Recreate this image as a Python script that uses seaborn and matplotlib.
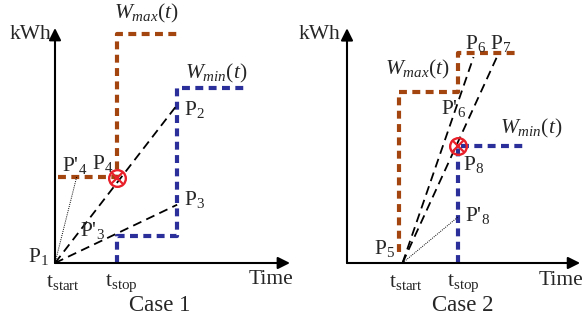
import matplotlib
matplotlib.use("Agg")
import matplotlib.pyplot as plt
import seaborn as sns
import pandas as pd

sns.set_theme(style="white")
plt.rcParams['font.family'] = ['Liberation Serif', 'DejaVu Serif']
plt.rcParams['mathtext.fontset'] = 'custom'
plt.rcParams['mathtext.rm'] = 'Liberation Serif'
plt.rcParams['mathtext.it'] = 'Liberation Serif:italic'

BROWN = '#A3450E'
BLUE = '#2B2F9A'
RED = '#E8202A'

# ---------------- Case 1 data ----------------
c1_wmax_t = [0.05, 1.0, 1.0, 1.97]
c1_wmax_e = [1.39, 1.39, 3.69, 3.69]
c1_wmin_t = [1.0, 1.0, 1.97, 1.97, 3.07]
c1_wmin_e = [0.0, 0.44, 0.44, 2.82, 2.82]
c1_P1 = (0.0, 0.0)
c1_P2 = (1.97, 2.55)
c1_P3 = (1.97, 0.94)
c1_P4p = (0.35, 1.39)
c1_P4 = (1.0, 1.37)

# ---------------- Case 2 data ----------------
c2_wmax_t = [0.94, 0.94, 2.0, 2.0, 3.12]
c2_wmax_e = [0.2, 3.08, 3.08, 3.78, 3.78]
c2_wmin_t = [2.0, 2.0, 3.24]
c2_wmin_e = [0.0, 2.11, 2.11]
c2_P5 = (1.0, 0.0)
c2_P6 = (2.28, 3.71)
c2_P7 = (2.70, 3.71)
c2_P8 = (2.0, 2.11)
c2_P8p = (2.0, 0.83)

fig = plt.figure(figsize=(5.83, 3.24), dpi=100)
axL = fig.add_axes([0, 0, 291 / 583, 1])
axR = fig.add_axes([291 / 583, 0, 292 / 583, 1])

axL.set_xlim(-55 / 62, (291 - 55) / 62)
axL.set_ylim(-(324 - 263) / 62, 263 / 62)
axR.set_xlim(-(347 - 291) / 55.5, (583 - 347) / 55.5)
axR.set_ylim(-(324 - 263) / 55.5, 263 / 55.5)

step_kw = dict(sort=False, estimator=None, legend=False)


def step(ax, t, e, color):
    df = pd.DataFrame({'t': t, 'e': e})
    sns.lineplot(data=df, x='t', y='e', ax=ax, color=color, linewidth=3.0,
                 linestyle=(0, (1.9, 1.3)), **step_kw)


def dash(ax, p, q):
    df = pd.DataFrame({'t': [p[0], q[0]], 'e': [p[1], q[1]]})
    sns.lineplot(data=df, x='t', y='e', ax=ax, color='black', linewidth=1.3,
                 linestyle=(0, (5.0, 3.0)), **step_kw)


def dot(ax, p, q):
    df = pd.DataFrame({'t': [p[0], q[0]], 'e': [p[1], q[1]]})
    sns.lineplot(data=df, x='t', y='e', ax=ax, color='black', linewidth=0.7,
                 linestyle=(0, (1, 1.2)), **step_kw)


def axes_arrows(ax, xend, yend):
    ap = dict(arrowstyle='-|>', lw=1.5, color='black', mutation_scale=18,
              shrinkA=0, shrinkB=0)
    ax.annotate('', xy=(0, yend), xytext=(0, 0), arrowprops=ap, annotation_clip=False)
    ax.annotate('', xy=(xend, 0), xytext=(0, 0), arrowprops=ap, annotation_clip=False)


def marker(ax, p):
    ax.plot([p[0]], [p[1]], marker='o', ms=12, mfc='none', mec=RED, mew=1.7, zorder=5)
    ax.plot([p[0]], [p[1]], marker='x', ms=8, mec=RED, mew=1.6, zorder=5)


FS = 15.5
WMAX = '$W_{max}\\mathit{(t)}$'
WMIN = '$W_{min}\\mathit{(t)}$'
# ---------------- Case 1 ----------------
axes_arrows(axL, 3.79, 3.79)
step(axL, c1_wmax_t, c1_wmax_e, BROWN)
step(axL, c1_wmin_t, c1_wmin_e, BLUE)
dash(axL, c1_P1, c1_P2)
dash(axL, c1_P1, c1_P3)
dot(axL, c1_P1, c1_P4p)
marker(axL, c1_P4)

axL.text(-0.06, 3.68, 'kWh', fontsize=FS, ha='right', va='center')
axL.text(1.47, 4.03, WMAX, fontsize=FS, ha='center', va='center')
axL.text(2.6, 3.06, WMIN, fontsize=FS, ha='center', va='center')
axL.text(2.08, 2.47, 'P$_2$', fontsize=FS, ha='left', va='center')
axL.text(2.08, 1.02, 'P$_3$', fontsize=FS, ha='left', va='center')
axL.text(0.12, 1.58, "P'$_4$", fontsize=FS, ha='left', va='center')
axL.text(0.6, 1.6, 'P$_4$', fontsize=FS, ha='left', va='center')
axL.text(0.6, 0.53, "P'$_3$", fontsize=FS, ha='center', va='center')
axL.text(-0.1, 0.1, 'P$_1$', fontsize=FS, ha='right', va='center')
axL.text(-0.14, -0.32, 't$_{\\mathrm{start}}$', fontsize=FS, ha='left', va='center')
axL.text(0.8, -0.32, 't$_{\\mathrm{stop}}$', fontsize=FS, ha='left', va='center')
axL.text(3.13, -0.27, 'Time', fontsize=FS, ha='left', va='center')
axL.text(1.69, -0.68, 'Case 1', fontsize=16.5, ha='center', va='center')

# ---------------- Case 2 ----------------
axes_arrows(axR, 4.2, 4.23)
step(axR, c2_wmax_t, c2_wmax_e, BROWN)
step(axR, c2_wmin_t, c2_wmin_e, BLUE)
dash(axR, c2_P5, c2_P6)
dash(axR, c2_P5, c2_P7)
dot(axR, c2_P5, c2_P8p)
marker(axR, c2_P8)

axR.text(-0.12, 4.11, 'kWh', fontsize=FS, ha='right', va='center')
axR.text(2.13, 3.95, 'P$_6$', fontsize=FS, ha='left', va='center')
axR.text(2.57, 3.95, 'P$_7$', fontsize=FS, ha='left', va='center')
axR.text(0.68, 3.48, WMAX, fontsize=FS, ha='left', va='center')
axR.text(1.7, 2.79, "P'$_6$", fontsize=FS, ha='left', va='center')
axR.text(2.76, 2.43, WMIN, fontsize=FS, ha='left', va='center')
axR.text(2.09, 1.78, 'P$_8$', fontsize=FS, ha='left', va='center')
axR.text(2.13, 0.85, "P'$_8$", fontsize=FS, ha='left', va='center')
axR.text(0.87, 0.27, 'P$_5$', fontsize=FS, ha='right', va='center')
axR.text(0.76, -0.36, 't$_{\\mathrm{start}}$', fontsize=FS, ha='left', va='center')
axR.text(1.81, -0.36, 't$_{\\mathrm{stop}}$', fontsize=FS, ha='left', va='center')
axR.text(3.46, -0.31, 'Time', fontsize=FS, ha='left', va='center')
axR.text(2.08, -0.76, 'Case 2', fontsize=16.5, ha='center', va='center')

for ax in (axL, axR):
    ax.set_axis_off()
    for l in ax.lines:
        l.set_clip_on(False)

fig.savefig('out.png', dpi=100)
